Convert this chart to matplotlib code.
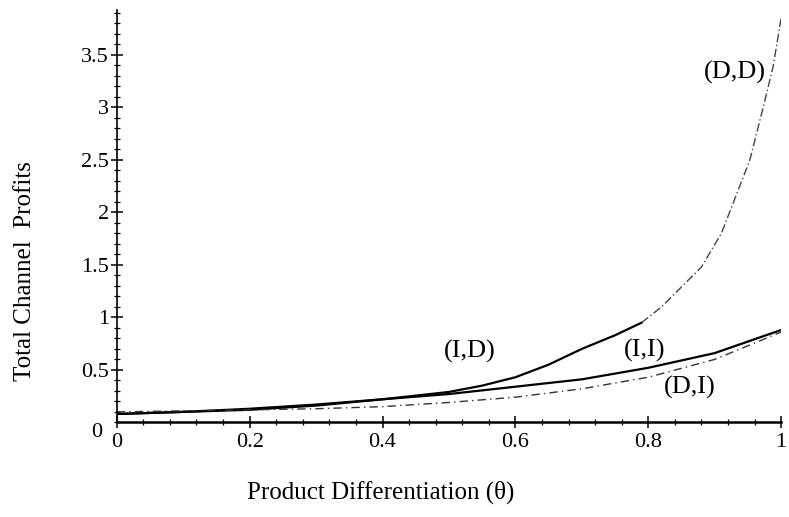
import numpy as np
import matplotlib.pyplot as plt
from matplotlib.ticker import MultipleLocator

plt.rcParams['font.family'] = ['Liberation Serif', 'DejaVu Serif']

# values
theta_id = [0, 0.1, 0.2, 0.3, 0.4, 0.5, 0.55, 0.6, 0.65, 0.7, 0.75, 0.79]
prof_id = [0.08, 0.10, 0.12, 0.16, 0.22, 0.29, 0.35, 0.43, 0.55, 0.70, 0.83, 0.95]

theta_dd = [0.79, 0.82, 0.85, 0.88, 0.91, 0.934, 0.953, 0.973, 0.988, 1.0]
prof_dd = [0.95, 1.10, 1.29, 1.48, 1.80, 2.19, 2.50, 3.00, 3.39, 3.85]

theta_ii = [0, 0.1, 0.2, 0.3, 0.4, 0.5, 0.6, 0.7, 0.8, 0.9, 1.0]
prof_ii = [0.08, 0.10, 0.13, 0.17, 0.22, 0.27, 0.34, 0.41, 0.52, 0.66, 0.88]

theta_di = [0, 0.1, 0.2, 0.3, 0.4, 0.5, 0.6, 0.7, 0.8, 0.9, 1.0]
prof_di = [0.10, 0.11, 0.12, 0.13, 0.15, 0.19, 0.24, 0.32, 0.43, 0.60, 0.86]

labels = ['(D,D)', '(I,D)', '(I,I)', '(D,I)']
label_pos = [(0.93, 3.33), (0.532, 0.68), (0.795, 0.69), (0.862, 0.33)]

xticks = [0, 0.2, 0.4, 0.6, 0.8, 1]
xticklabels = ['0', '0.2', '0.4', '0.6', '0.8', '1']
yticks = [0.5, 1, 1.5, 2, 2.5, 3, 3.5]
yticklabels = ['0.5', '1', '1.5', '2', '2.5', '3', '3.5']

fig = plt.figure(figsize=(7.89, 5.17), dpi=100)
ax = fig.add_axes([0.148, 0.183, 0.842, 0.798])

ax.plot(theta_id, prof_id, color='black', lw=1.6)
ax.plot(theta_dd, prof_dd, color='#444444', lw=1.0, ls=(0, (6, 2, 1, 2)))
ax.plot(theta_ii, prof_ii, color='black', lw=1.6)
ax.plot(theta_di, prof_di, color='#333333', lw=1.0, ls=(0, (6, 3, 1, 3)))

for txt, (x, y) in zip(labels, label_pos):
    ax.text(x, y, txt, fontsize=19, ha='center', va='center')

ax.set_xlim(0, 1)
ax.set_ylim(0, 3.93)
for s in ['top', 'right']:
    ax.spines[s].set_visible(False)
ax.spines['left'].set_linewidth(1.2)
ax.spines['bottom'].set_linewidth(1.8)

ax.set_xticks(xticks)
ax.set_xticklabels(xticklabels)
ax.xaxis.set_minor_locator(MultipleLocator(0.04))
ax.set_yticks(yticks)
ax.set_yticklabels(yticklabels)
ax.yaxis.set_minor_locator(MultipleLocator(0.1))
ax.tick_params(direction='inout', length=9, width=1.1, labelsize=16, pad=1)
ax.tick_params(which='minor', direction='inout', length=4, width=0.9)
ax.tick_params(axis='x', pad=3)
ax.text(-0.022, -0.1, '0', fontsize=16, ha='right', va='center')

fig.text(0.032, 0.475, 'Total Channel  Profits', rotation=90, fontsize=18,
         ha='center', va='center')
fig.text(0.483, 0.048, 'Product Differentiation (θ)', fontsize=18,
         ha='center', va='center')

fig.savefig('out.png', dpi=100)
